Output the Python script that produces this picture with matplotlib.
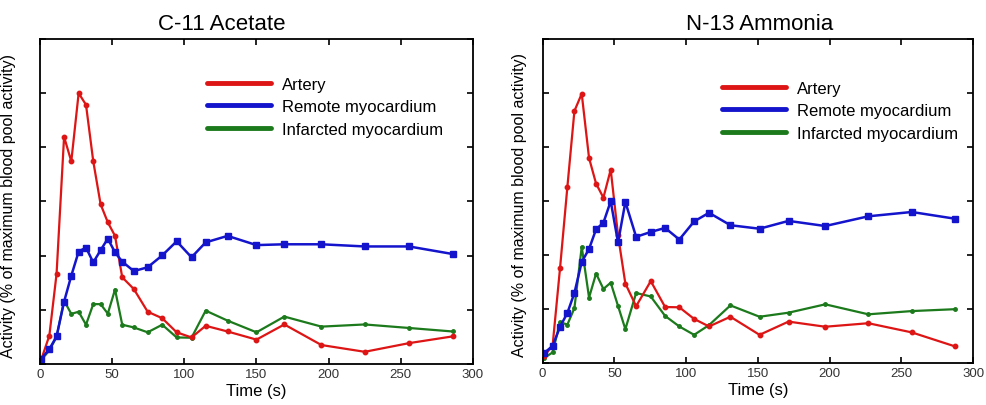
import matplotlib
matplotlib.use("Agg")
import matplotlib.pyplot as plt
from matplotlib.lines import Line2D

plt.rcParams['font.family'] = ['Liberation Sans', 'DejaVu Sans']

# C-11 acetate time activity curves (% of max blood pool activity)
t_c11 = [1, 6.5, 11.5, 16.7, 21.7, 26.8, 31.9, 36.9, 42, 47, 52, 57, 65, 74.6, 84.7,
         94.7, 105, 114.8, 130, 150, 169.3, 195, 225, 255.7, 286]
artery_c11 = [1.8, 10.5, 33.3, 83.9, 74.8, 100, 95.7, 74.9, 59, 52.3, 47.3, 32, 27.7, 19.3,
              16.9, 11.7, 9.8, 14.1, 12, 9, 14.6, 7, 4.5, 7.7, 10.2]
remote_c11 = [2, 5.5, 10.2, 23, 32.6, 41.5, 43, 37.5, 42, 46.3, 41.2, 37.8, 34.3, 35.7,
              40.1, 45.3, 39.4, 44.9, 47.3, 43.9, 44.2, 44.2, 43.4, 43.4, 40.6]
infarct_c11 = [1.6, 5, 10, 23.4, 18.5, 19.3, 14.5, 22.1, 22.1, 18.6, 27.5, 14.5, 13.5, 11.7,
               14.5, 9.8, 9.7, 19.7, 16, 11.7, 17.5, 13.8, 14.6, 13.3, 12]

# N-13 ammonia
t_n13 = [0.8, 7, 12.2, 17.3, 22.2, 27.3, 32.4, 37.3, 42.4, 47.5, 52.6, 57.7, 65.2, 75.4,
         85.4, 95.3, 105.6, 116, 130.9, 151.2, 171.4, 197, 227, 257.3, 287.5]
artery_n13 = [2.5, 6.5, 35.3, 65.3, 93.4, 99.8, 76, 66.5, 61.3, 71.7, 47.3, 29.5, 21.1, 30.4,
              20.8, 20.7, 16.4, 13.6, 17.2, 10.5, 15.4, 13.5, 14.8, 11.4, 6.2]
remote_n13 = [3.6, 6.4, 13.5, 18.6, 26, 37.5, 42.3, 49.6, 52, 60, 44.7, 59.7, 46.8, 48.6,
              50.1, 45.8, 52.5, 55.7, 51.1, 49.8, 52.7, 50.8, 54.4, 56, 53.5]
infarct_n13 = [1.8, 4, 15.2, 14.3, 20.4, 43.1, 24.3, 33.2, 27.5, 29.8, 21.2, 12.6, 26, 24.7,
               17.5, 13.6, 10.5, 14.1, 21.4, 17.2, 18.7, 21.8, 18.1, 19.3, 20]

titles = ["C-11 Acetate", "N-13 Ammonia"]
labels = ["Artery", "Remote myocardium", "Infarcted myocardium"]
xticks = [0, 50, 100, 150, 200, 250, 300]

red = '#dd1515'
blue = '#1414cc'
green = '#1c7a1c'

fig = plt.figure(figsize=(9.87, 4.06), dpi=100)
ax1 = fig.add_axes([0.0405, 0.101, 0.4387, 0.8005])
ax2 = fig.add_axes([0.5497, 0.103, 0.4362, 0.798])

data = [(t_c11, artery_c11, remote_c11, infarct_c11),
        (t_n13, artery_n13, remote_n13, infarct_n13)]
title_x = [0.42, 0.505]
legend_xy = [(0.386, 0.884), (0.416, 0.872)]
ylabel_x = [-0.056, -0.036]

for i, ax in enumerate([ax1, ax2]):
    t, art, rem, inf = data[i]
    ax.plot(t, inf, color=green, lw=1.6, marker='o', ms=2.5)
    ax.plot(t, art, color=red, lw=1.6, marker='o', ms=3.2)
    ax.plot(t, rem, color=blue, lw=1.8, marker='s', ms=3.8)

    ax.set_xlim(0, 300)
    ax.set_ylim(0, 120)
    ax.set_xticks(xticks)
    ax.set_yticks(range(0, 121, 20))
    ax.set_yticklabels([])
    ax.tick_params(direction='in', top=True, right=True, length=4, width=1.2,
                   labelsize=9.5, pad=3, labelcolor='#333333')
    for s in ax.spines.values():
        s.set_linewidth(1.3)

    ax.set_title(titles[i], fontsize=16, x=title_x[i], pad=7)
    ax.set_xlabel("Time (s)", fontsize=12, labelpad=2)
    ax.set_ylabel("Activity (% of maximum blood pool activity)", fontsize=11.5)
    ax.yaxis.set_label_coords(ylabel_x[i], 0.49)

    handles = [Line2D([], [], color=c, lw=3.5, solid_capstyle='round') for c in (red, blue, green)]
    ax.legend(handles, labels, loc='upper left', bbox_to_anchor=legend_xy[i], frameon=False,
              fontsize=12, handlelength=3.85, handletextpad=0.65, labelspacing=0.45,
              borderpad=0, borderaxespad=0)

fig.savefig("out.png", dpi=100)
